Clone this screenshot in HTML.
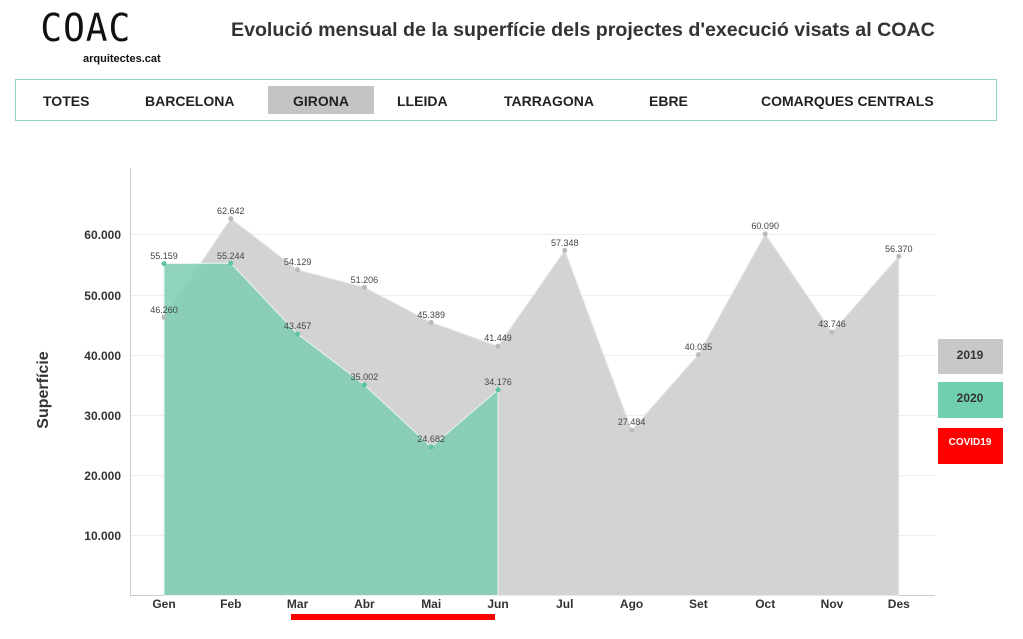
<!DOCTYPE html>
<html><head><meta charset="utf-8"><style>
body{margin:0;width:1023px;height:639px;background:#fff;font-family:"Liberation Sans",sans-serif;position:relative;overflow:hidden}
.a{position:absolute}
</style></head><body>
<div class="a" style="left:38px;top:6px;font-size:38px;letter-spacing:1px;color:#111;font-family:'DejaVu Sans Mono','Liberation Mono',monospace;transform:scaleX(0.95)">COAC</div>
<div class="a" style="left:83px;top:53px;font-size:11px;font-weight:bold;color:#111">arquitectes.cat</div>
<div class="a" style="left:231px;top:19px;font-size:19.6px;font-weight:bold;color:#333">Evolució mensual de la superfície dels projectes d'execució visats al COAC</div>
<div class="a" style="left:15px;top:79px;width:980px;height:40px;border:1px solid #8fd5c0"></div>
<div class="a" style="left:268px;top:86px;width:106px;height:28px;background:#c4c4c4"></div>
<div class="a" style="top:93px;left:0;font-size:14px;font-weight:bold;color:#222;width:1023px;height:20px">
<span class="a" style="left:43px">TOTES</span><span class="a" style="left:145px">BARCELONA</span><span class="a" style="left:293px">GIRONA</span><span class="a" style="left:397px">LLEIDA</span><span class="a" style="left:504px">TARRAGONA</span><span class="a" style="left:649px">EBRE</span><span class="a" style="left:761px">COMARQUES CENTRALS</span></div>
<svg class="a" style="left:0;top:0" width="1023" height="639" font-family="Liberation Sans, sans-serif">
<g stroke="#eee" stroke-width="1">
<line x1="130" x2="935" y1="234.5" y2="234.5"/><line x1="130" x2="935" y1="295.5" y2="295.5"/><line x1="130" x2="935" y1="355.5" y2="355.5"/><line x1="130" x2="935" y1="415.5" y2="415.5"/><line x1="130" x2="935" y1="475.5" y2="475.5"/><line x1="130" x2="935" y1="535.5" y2="535.5"/>
</g>
<line x1="130.5" x2="130.5" y1="168" y2="596" stroke="#ccc"/>
<line x1="130" x2="935" y1="595.5" y2="595.5" stroke="#ccc"/>
<polygon fill="#d3d3d3" stroke="#e8e8e8" points="164,595.5 164,317.2 230.8,218.6 297.6,269.8 364.4,287.4 431.2,322.4 498,346.1 564.8,250.4 631.6,430.1 698.4,354.6 765.2,233.9 832,332.3 898.8,256.3 898.8,595.5"/>
<polygon fill="#7dcdb2" fill-opacity="0.85" stroke="#e8f5f0" points="164,595.5 164,263.6 230.8,263.1 297.6,334 364.4,384.9 431.2,447 498,389.9 498,595.5"/>
<g fill="#bbb"><circle cx="164" cy="317.2" r="2.5"/><circle cx="230.8" cy="218.6" r="2.5"/><circle cx="297.6" cy="269.8" r="2.5"/><circle cx="364.4" cy="287.4" r="2.5"/><circle cx="431.2" cy="322.4" r="2.5"/><circle cx="498" cy="346.1" r="2.5"/><circle cx="564.8" cy="250.4" r="2.5"/><circle cx="631.6" cy="430.1" r="2.5"/><circle cx="698.4" cy="354.6" r="2.5"/><circle cx="765.2" cy="233.9" r="2.5"/><circle cx="832" cy="332.3" r="2.5"/><circle cx="898.8" cy="256.3" r="2.5"/></g>
<g fill="#5cc4a2"><circle cx="164" cy="263.6" r="2.5"/><circle cx="230.8" cy="263.1" r="2.5"/><circle cx="297.6" cy="334" r="2.5"/><circle cx="364.4" cy="384.9" r="2.5"/><circle cx="431.2" cy="447" r="2.5"/><circle cx="498" cy="389.9" r="2.5"/></g>
<g font-size="9" fill="#444" text-anchor="middle">
<text x="164" y="313">46.260</text><text x="230.8" y="214">62.642</text><text x="297.6" y="265">54.129</text><text x="364.4" y="283">51.206</text><text x="431.2" y="318">45.389</text><text x="498" y="341">41.449</text><text x="564.8" y="246">57.348</text><text x="631.6" y="425">27.484</text><text x="698.4" y="350">40.035</text><text x="765.2" y="229">60.090</text><text x="832" y="327">43.746</text><text x="898.8" y="252">56.370</text>
<text x="164" y="259">55.159</text><text x="230.8" y="259">55.244</text><text x="297.6" y="329">43.457</text><text x="364.4" y="380">35.002</text><text x="431.2" y="442">24.682</text><text x="498" y="385">34.176</text>
</g>
<g font-size="12" font-weight="bold" fill="#333" text-anchor="end">
<text x="121" y="239">60.000</text><text x="121" y="300">50.000</text><text x="121" y="360">40.000</text><text x="121" y="420">30.000</text><text x="121" y="480">20.000</text><text x="121" y="540">10.000</text>
</g>
<g font-size="12" font-weight="bold" fill="#333" text-anchor="middle">
<text x="164" y="608">Gen</text><text x="230.8" y="608">Feb</text><text x="297.6" y="608">Mar</text><text x="364.4" y="608">Abr</text><text x="431.2" y="608">Mai</text><text x="498" y="608">Jun</text><text x="564.8" y="608">Jul</text><text x="631.6" y="608">Ago</text><text x="698.4" y="608">Set</text><text x="765.2" y="608">Oct</text><text x="832" y="608">Nov</text><text x="898.8" y="608">Des</text>
</g>
<text x="48" y="390" font-size="16" font-weight="bold" fill="#333" text-anchor="middle" transform="rotate(-90 48 390)">Superfície</text>
<rect x="291" y="614" width="204" height="6" fill="#f00"/>
<rect x="938" y="339" width="65" height="35" fill="#c8c8c8"/>
<rect x="938" y="382" width="65" height="36" fill="#6fcfb0"/>
<rect x="938" y="428" width="65" height="36" fill="#f00"/>
<text x="970" y="359" font-size="12" font-weight="bold" fill="#333" text-anchor="middle">2019</text>
<text x="970" y="402" font-size="12" font-weight="bold" fill="#333" text-anchor="middle">2020</text>
<text x="970" y="445" font-size="10" font-weight="bold" fill="#fff" text-anchor="middle">COVID19</text>
</svg>
</body></html>
